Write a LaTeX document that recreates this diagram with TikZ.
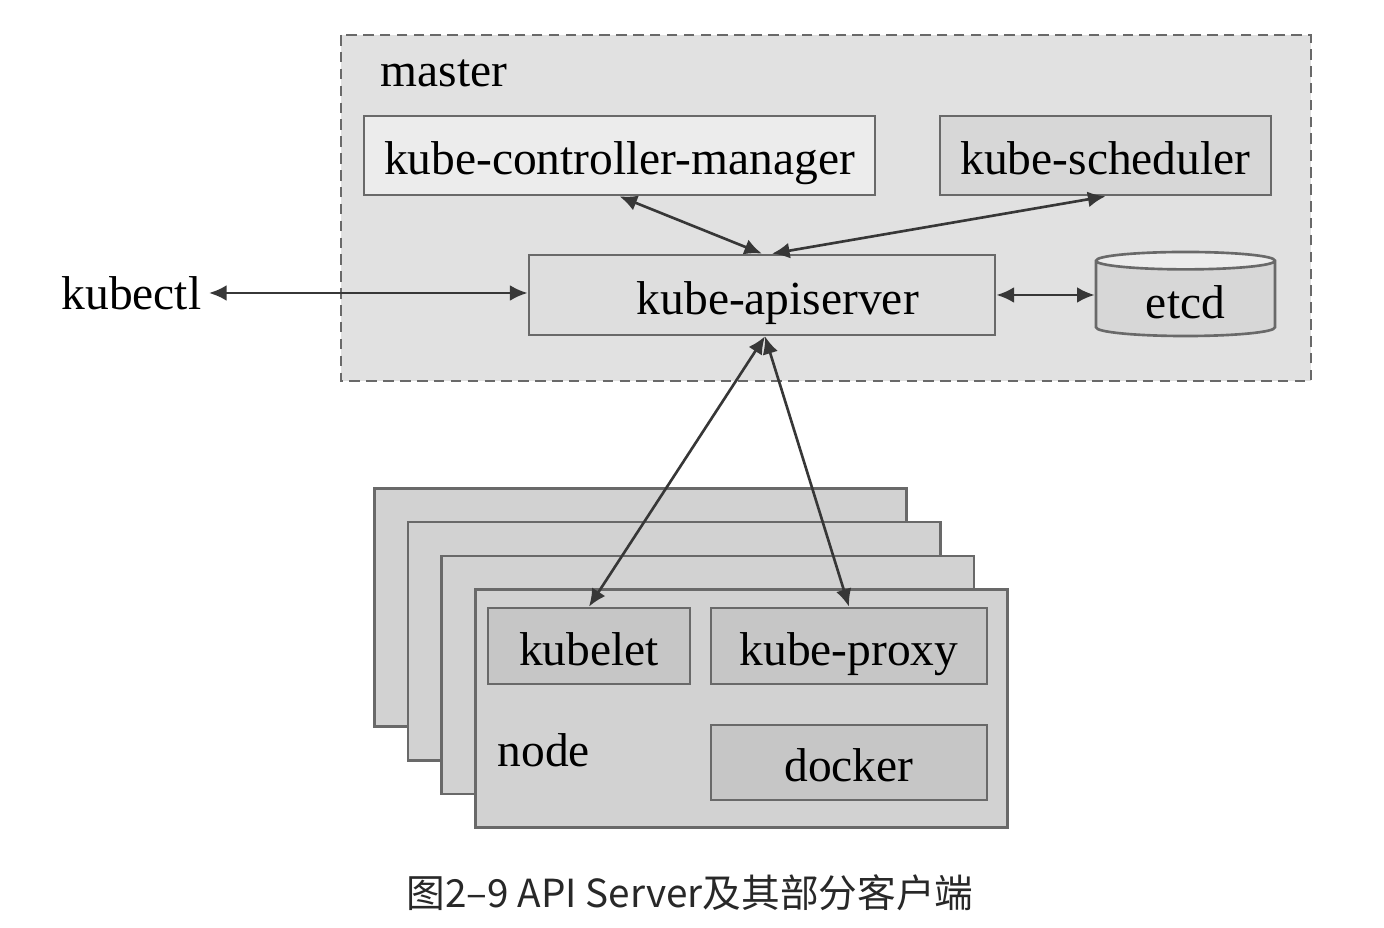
\documentclass[tikz,border=0pt]{standalone}
\usepackage{fontspec}
\setmainfont{Liberation Serif}
\newfontfamily\cjkfont{Noto Sans CJK SC}
\usetikzlibrary{arrows.meta, positioning, shapes.geometric}
\definecolor{mastergray}{RGB}{225, 225, 225}
\definecolor{schedgray}{RGB}{215, 215, 215}
\definecolor{lightbox}{RGB}{236, 236, 236}
\definecolor{apigray}{RGB}{222, 222, 222}
\definecolor{nodegray}{RGB}{210, 210, 210}
\definecolor{innergray}{RGB}{198, 198, 198}
\definecolor{edgegray}{RGB}{105, 105, 105}
\definecolor{arrowgray}{RGB}{55, 55, 55}
\definecolor{captiongray}{RGB}{40, 40, 40}

\begin{document}
\begin{tikzpicture}[x=0.01cm, y=-0.01cm,
    label/.style={inner sep=0pt, font=\fontsize{13.5}{16}\selectfont},
    comp/.style={draw=edgegray, line width=0.75pt, rectangle, inner sep=0pt,
      text height=11pt, text depth=0pt, font=\fontsize{13.5}{16}\selectfont},
    layer/.style={draw=edgegray, line width=0.75pt, fill=nodegray, rectangle,
      minimum width=5.32cm, minimum height=2.38cm, inner sep=0pt},
    link/.style={arrowgray, line width=0.75pt,
      {Latex[length=5pt,width=4.5pt]}-{Latex[length=5pt,width=4.5pt]}}]
    \useasboundingbox[fill=white] (0,0) rectangle (1384,928);

    % master
    \draw[edgegray, fill=mastergray, line width=0.75pt, dash pattern=on 3pt off 1.8pt]
        (341,35) rectangle (1311,381);
    \node[label, anchor=west] (master) at (380,73) {master};
    \node[comp, fill=lightbox, minimum width=5.11cm, minimum height=0.79cm] (ctrlmgr) at (619.5,155.5) {kube-controller-manager};
    \node[comp, fill=schedgray, minimum width=3.31cm, minimum height=0.79cm] (scheduler) at (1105.5,155.5) {kube-scheduler};
    \node[comp, fill=apigray, minimum width=4.66cm, minimum height=0.80cm] (apiserver) at (762,295) {\hspace*{9pt}kube-apiserver};
    \node[comp, cylinder, shape border rotate=90, aspect=0.22, cylinder uses custom fill,
        cylinder body fill=schedgray, cylinder end fill=lightbox, anchor=shape center,
        minimum width=1.79cm, minimum height=0.84cm] (etcd) at (1185.5,294) {etcd};
    \node[label, anchor=east] (kubectl) at (202,293) {kubectl};

    % node stack
    \foreach \i in {0,...,3}
        \node[layer] (layer\i) at (640.5+33.7*\i, 607.5+33.7*\i) {};
    \node[comp, fill=innergray, minimum width=2.02cm, minimum height=0.76cm] (kubelet) at (589,646) {kubelet};
    \node[comp, fill=innergray, minimum width=2.76cm, minimum height=0.76cm] (proxy) at (849,646) {kube-proxy};
    \node[comp, fill=innergray, minimum width=2.76cm, minimum height=0.75cm] (docker) at (849,762.5) {docker};
    \node[label, anchor=west] (nodelabel) at (497,750) {node};

    % links
    \draw[link, shorten <=2pt] (kubectl.east) -- (apiserver.west |- kubectl.east);
    \draw[link] (apiserver.east) -- (apiserver.east -| etcd.west);
    \draw[link] (ctrlmgr.south) -- (apiserver.north);
    \draw[link] (scheduler.south) -- ([xshift=0.1cm]apiserver.north);
    \draw[link] ([xshift=0.03cm]apiserver.south) -- (kubelet.north);
    \draw[link] ([xshift=0.03cm]apiserver.south) -- (proxy.north);

    \node[font=\cjkfont\fontsize{11}{14}\selectfont, text=captiongray] (caption) at (690,893) {图2–9 API Server及其部分客户端};
\end{tikzpicture}
\end{document}
